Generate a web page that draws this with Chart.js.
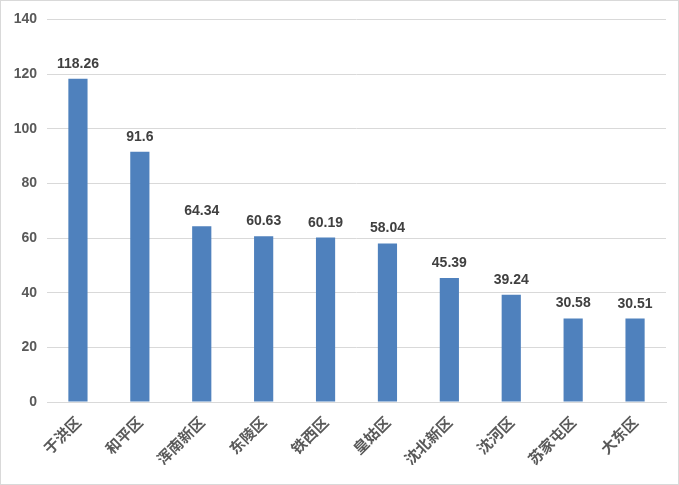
<!DOCTYPE html>
<html>
<head>
<meta charset="utf-8">
<script src="https://cdn.jsdelivr.net/npm/chart.js@4/dist/chart.umd.min.js"></script>
<style>
  html, body { margin: 0; padding: 0; background: #fff; }
  #wrap { position: relative; width: 679px; height: 485px; box-sizing: border-box; border: 1px solid #d9d9d9; }
</style>
</head>
<body>
<div id="wrap"><canvas id="chart" width="677" height="483"></canvas></div>
<script>
// data
const districts = ['于洪区', '和平区', '浑南新区', '东陵区', '铁西区', '皇姑区', '沈北新区', '沈河区', '苏家屯区', '大东区']
const values = [118.26, 91.6, 64.34, 60.63, 60.19, 58.04, 45.39, 39.24, 30.58, 30.51]
const yTicks = [0, 20, 40, 60, 80, 100, 120, 140]

// value labels on top of the bars
const barLabels = {
  id: 'barLabels',
  afterDatasetsDraw(chart) {
    const ctx = chart.ctx
    const meta = chart.getDatasetMeta(0)
    ctx.save()
    ctx.font = 'bold 14px "Liberation Sans", Arial, sans-serif'
    ctx.fillStyle = '#404040'
    ctx.textAlign = 'center'
    ctx.textBaseline = 'alphabetic'
    meta.data.forEach((bar, i) => {
      ctx.fillText(String(values[i]), bar.x, bar.y - 11)
    })
    ctx.restore()
  }
}

new Chart(document.getElementById('chart'), {
  type: 'bar',
  data: {
    labels: districts,
    datasets: [
      {
        data: values,
        backgroundColor: '#4f81bd',
        barPercentage: 0.31,
        categoryPercentage: 1,
      },
    ],
  },
  options: {
    responsive: false,
    animation: false,
    layout: { padding: { top: 14, right: 12, left: 0, bottom: 0 } },
    plugins: {
      legend: { display: false },
      tooltip: { enabled: false },
    },
    scales: {
      x: {
        grid: { display: false, drawTicks: false },
        border: { color: '#d9d9d9' },
        ticks: {
          minRotation: 45,
          maxRotation: 45,
          padding: 11,
          color: '#595959',
          font: { size: 15, weight: 'bold', family: '"Noto Sans CJK SC", sans-serif' },
        },
        afterFit: (scale) => { scale.height = 82 },
      },
      y: {
        min: 0,
        max: 140,
        afterBuildTicks: (scale) => { scale.ticks = yTicks.map((v) => ({ value: v })) },
        grid: { color: '#d9d9d9', drawTicks: false },
        border: { display: false },
        ticks: {
          padding: 10,
          color: '#595959',
          font: { size: 14, weight: 'bold', family: '"Liberation Sans", Arial, sans-serif' },
        },
        afterFit: (scale) => { scale.width = 46 },
      },
    },
  },
  plugins: [barLabels],
})
</script>
</body>
</html>
